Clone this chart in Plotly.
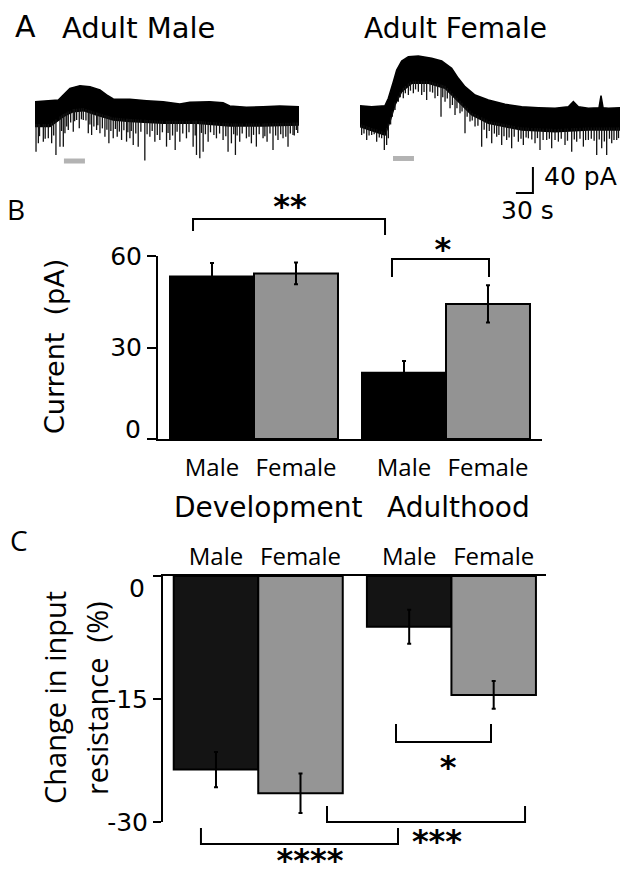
import numpy as np
import plotly.graph_objects as go

W, H = 620, 870

# ---------------- Panel A: example recordings (time s, current pA) ----------------
male_top_t = [0, 20.6, 41.2, 50.0, 61.7, 79.4, 97.0, 114.7, 126.4, 138.2, 167.6, 197.0, 226.4,
              255.8, 273.4, 308.7, 332.2, 344.0, 373.4, 402.8, 432.2, 466.3]
male_top_i = [5.1, 6.2, 7.7, 15.4, 25.6, 29.7, 28.2, 23.1, 15.4, 9.2, 8.7, 6.7, 5.1,
              1.5, 4.1, 5.1, 3.6, -1.5, -3.6, -2.6, -1.5, -2.6]
male_bot_t = [0, 26.5, 50.0, 67.6, 85.3, 108.8, 138.2, 167.6, 226.4, 285.2, 344.0, 402.8, 466.3]
male_bot_i = [-33.3, -33.3, -18.0, -10.3, -8.7, -15.4, -23.1, -25.6, -28.2, -28.2, -32.3, -32.3, -30.8]
male_spike_t = [1.8, 5.9, 14.7, 23.5, 29.4, 37.0, 44.1, 50.0, 52.9, 58.8, 67.6, 73.5, 78.2, 85.3,
                94.1, 100.0, 108.8, 114.7, 123.5, 130.5, 138.2, 145.2, 152.9, 161.7, 167.6, 173.5,
                182.3, 194.0, 202.9, 211.7, 220.5, 232.3, 238.2, 247.6, 255.8, 267.5, 279.3, 285.2,
                291.1, 297.0, 305.8, 320.5, 332.2, 341.0, 346.9, 354.0, 361.6, 373.4, 382.2, 391.0,
                402.8, 409.9, 420.4, 429.2, 438.1, 446.9, 455.7, 461.6,
                8, 18, 33, 47, 56, 63, 70, 82, 90, 97, 104, 111, 119, 127, 134, 142, 149, 157, 164,
                170, 178, 187, 198, 207, 216, 225, 235, 243, 251, 261, 272, 283, 294, 301, 310, 316,
                326, 337, 351, 357, 366, 378, 386, 396, 406, 415, 425, 434, 443, 451, 458, 464]
male_spike_i = [-71.8, -59.0, -56.4, -51.3, -59.0, -76.9, -64.1, -64.1, -43.6, -38.5, -41.0, -23.1,
                -35.9, -23.1, -43.6, -46.2, -38.5, -43.6, -48.7, -59.0, -51.3, -48.7, -53.8, -56.4,
                -51.3, -61.5, -64.1, -85.6, -48.7, -56.4, -53.8, -64.1, -53.8, -69.2, -56.4, -51.3,
                -64.1, -76.9, -82.1, -71.8, -56.4, -51.3, -53.8, -71.8, -59.0, -76.9, -56.4, -51.3,
                -59.0, -64.1, -51.3, -56.4, -69.2, -53.8, -51.3, -64.1, -46.2, -38.5,
                -48, -52, -47, -40, -33, -27, -25, -22, -24, -30, -33, -31, -36, -38, -40, -37, -41,
                -39, -42, -40, -44, -41, -45, -40, -46, -42, -43, -47, -41, -44, -42, -47, -43, -45,
                -42, -46, -44, -48, -45, -47, -44, -49, -46, -45, -48, -44, -47, -45, -49, -44, -47,
                -43]

fem_top_t = [0, 20.6, 44.1, 50.0, 58.8, 64.7, 73.5, 85.3, 102.9, 126.4, 144.1, 161.7, 173.5, 185.2,
             202.9, 226.4, 255.8, 285.2, 314.6, 344.0, 367.5, 376.3, 385.2, 402.8, 421.6, 425.1,
             428.7, 438.1, 458.6]
fem_top_i = [-1.0, -2.6, -1.0, 10.3, 35.9, 53.8, 67.7, 74.4, 75.4, 71.8, 67.7, 56.4, 41.0, 28.2,
             15.4, 7.7, 1.0, -2.6, -4.1, -5.1, -2.6, 5.1, -2.6, -5.1, -4.1, 14.3,
             -4.1, -5.1, -4.1]
fem_bot_t = [0, 44.1, 52.9, 61.7, 73.5, 91.1, 120.5, 150.0, 173.5, 197.0, 226.4, 285.2, 344.0,
             402.8, 458.6]
fem_bot_i = [-33.3, -46.2, -25.6, 0.0, 20.5, 33.3, 33.3, 25.6, 5.1, -15.4, -28.2, -38.5, -41.0,
             -38.5, -38.5]
fem_spike_t = [2.9, 11.8, 20.6, 29.4, 38.2, 42.9, 47.0, 50.0, 57.0, 61.7, 67.6, 76.4, 85.3, 94.1,
               102.9, 108.8, 117.6, 123.5, 132.3, 142.9, 150.0, 158.8, 167.6, 176.4, 185.2, 194.0,
               202.9, 214.6, 223.4, 232.3, 241.1, 249.9, 258.7, 267.5, 279.3, 288.1, 297.0, 308.7,
               317.5, 329.3, 338.1, 349.9, 361.6, 373.4, 382.2, 394.0, 402.8, 417.5, 426.3, 435.1,
               444.0, 452.8,
               7, 16, 25, 34, 54, 71, 80, 89, 98, 113, 128, 137, 146, 154, 163, 171, 180, 189, 198,
               208, 219, 228, 237, 245, 254, 263, 272, 284, 293, 303, 313, 323, 334, 344, 355, 366,
               378, 388, 398, 408, 413, 422, 431, 440, 448, 456]
fem_spike_i = [-46.2, -53.8, -46.2, -56.4, -51.3, -69.2, -61.5, -51.3, -18.0, -7.7, 5.1, 10.3, 15.4,
               18.0, 20.5, 15.4, 7.7, 20.5, 10.3, -18.0, 5.1, -5.1, -15.4, -12.8, -43.6, -25.6,
               -33.3, -64.1, -51.3, -59.0, -48.7, -61.5, -53.8, -66.7, -56.4, -61.5, -51.3, -59.0,
               -69.2, -53.8, -66.7, -56.4, -61.5, -71.8, -56.4, -64.1, -53.8, -76.9, -66.7, -76.9,
               -59.0, -53.8,
               -44, -47, -45, -50, -30, 12, 18, 22, 24, 20, 19, 14, 12, 10, 0, -5, -10, -18, -24,
               -32, -38, -40, -44, -46, -48, -50, -49, -52, -50, -53, -51, -54, -52, -54, -52, -55,
               -53, -52, -54, -52, -55, -53, -56, -52, -54, -51]

stim_male_t = [51.1, 88.2]
stim_male_i = [-86.2, -86.2]
stim_fem_t = [58.2, 95.2]
stim_fem_i = [-82.3, -82.3]

scale_t = [275, 305, 305]          # 30 s
scale_i = [-135.4, -135.4, -95.4]  # 40 pA

# ---------------- Panel B: current ----------------
groups = ["Development", "Adulthood"]
sexes = ["Male", "Female"]
b_vals = [53.3, 54.3, 21.7, 44.3]
b_err = [4.4, 3.6, 3.9, 6.1]
b_colors = ["#000000", "#939393", "#000000", "#939393"]
b_ticks = [0, 30, 60]

# ---------------- Panel C: change in input resistance ----------------
c_vals = [-23.6, -26.5, -6.2, -14.5]
c_err = [2.15, 2.4, 2.07, 1.7]
c_colors = ["#141414", "#959595", "#141414", "#959595"]
c_ticks = [0, -15, -30]

# significance brackets (x in bar-position units, y in data units)
b_brackets = [([-0.226, -0.226, 2.06, 2.06], [68.2, 72.1, 72.1, 66.9]),
              ([2.143, 2.143, 3.298, 3.298], [53.1, 59.0, 59.0, 53.1])]
b_stars = (["**", "*"], [0.929, 2.75], [75.4, 61.3])
c_brackets = [([2.130, 2.130, 3.254, 3.254], [-18.05, -20.24, -20.24, -18.05]),
              ([1.314, 1.314, 3.657, 3.657], [-28.05, -30.0, -30.0, -28.05]),
              ([-0.178, -0.178, 2.154, 2.154], [-30.73, -32.68, -32.68, -30.73])]
c_stars = (["*", "***", "****"], [2.746, 2.615, 1.112], [-23.7, -32.7, -35.0])

GAP = 0.286
pos = [g * (2 + GAP) + s for g in range(2) for s in range(2)]
labels = [s for g in groups for s in sexes]

ARIAL = "DejaVu Sans"
MYRIAD = "Open Sans"

fig = go.Figure()


def band(top_t, top_i, bot_t, bot_i, xa):
    fig.add_trace(go.Scatter(x=list(top_t) + list(bot_t)[::-1], y=list(top_i) + list(bot_i)[::-1],
                             fill="toself", fillcolor="black", mode="lines",
                             line=dict(color="black", width=1.5), xaxis=xa, yaxis="y",
                             hoverinfo="skip"))


def spikes(st, si, bot_t, bot_i, xa):
    xs, ys = [], []
    for t, v in zip(st, si):
        start = float(np.interp(t, bot_t, bot_i)) + 4
        xs += [t, t, None]
        ys += [start, v, None]
    fig.add_trace(go.Scatter(x=xs, y=ys, mode="lines", line=dict(color="#111111", width=1.3),
                             xaxis=xa, yaxis="y", hoverinfo="skip"))


band(male_top_t, male_top_i, male_bot_t, male_bot_i, "x")
spikes(male_spike_t, male_spike_i, male_bot_t, male_bot_i, "x")
band(fem_top_t, fem_top_i, fem_bot_t, fem_bot_i, "x2")
spikes(fem_spike_t, fem_spike_i, fem_bot_t, fem_bot_i, "x2")

fig.add_trace(go.Scatter(x=stim_male_t, y=stim_male_i, mode="lines",
                         line=dict(color="#b3b3b3", width=5), xaxis="x", yaxis="y"))
fig.add_trace(go.Scatter(x=stim_fem_t, y=stim_fem_i, mode="lines",
                         line=dict(color="#b3b3b3", width=5), xaxis="x2", yaxis="y"))
fig.add_trace(go.Scatter(x=scale_t, y=scale_i, mode="lines",
                         line=dict(color="black", width=2), xaxis="x2", yaxis="y"))

# Panel B bars
fig.add_trace(go.Bar(x=pos, y=b_vals, width=1, marker=dict(color=b_colors, line=dict(color="black", width=2)),
                     error_y=dict(type="data", array=b_err, color="black", thickness=2, width=2),
                     xaxis="x3", yaxis="y3"))
# Panel C bars
fig.add_trace(go.Bar(x=pos, y=c_vals, width=1, marker=dict(color=c_colors, line=dict(color="black", width=2)),
                     error_y=dict(type="data", array=c_err, color="black", thickness=2, width=2),
                     xaxis="x4", yaxis="y5"))

star_font = dict(family="DejaVu Sans", size=32, color="black", weight="bold")
for bx, by in b_brackets:
    fig.add_trace(go.Scatter(x=bx, y=by, mode="lines", line=dict(color="black", width=2),
                             xaxis="x3", yaxis="y4"))
fig.add_trace(go.Scatter(x=b_stars[1], y=b_stars[2], text=b_stars[0], mode="text",
                         textfont=star_font, textposition="middle center", cliponaxis=False,
                         xaxis="x3", yaxis="y4"))
for bx, by in c_brackets:
    fig.add_trace(go.Scatter(x=bx, y=by, mode="lines", line=dict(color="black", width=2),
                             xaxis="x4", yaxis="y6"))
fig.add_trace(go.Scatter(x=c_stars[1], y=c_stars[2], text=c_stars[0], mode="text",
                         textfont=star_font, textposition="middle center", cliponaxis=False,
                         xaxis="x4", yaxis="y6"))


def dom_x(a, b):
    return [a / W, b / W]


def dom_y(top, bottom):
    return [1 - bottom / H, 1 - top / H]


ann = []


def text(t, x, y, size, family, xanchor="center", angle=0):
    ann.append(dict(text=t, x=x / W, y=1 - y / H, xref="paper", yref="paper", showarrow=False,
                    xanchor=xanchor, yanchor="middle", textangle=angle,
                    font=dict(size=size, family=family, color="black")))


text("A", 25, 27, 30, ARIAL)
text("Adult Male", 138, 28, 29, ARIAL)
text("Adult Female", 455, 28, 28, ARIAL)
text("40 pA", 542, 177, 25, ARIAL, xanchor="left")
text("30 s", 527, 210, 25, ARIAL)
text("B", 16, 209, 28, MYRIAD)
text("C", 19, 540, 28, MYRIAD)
text("Current\u00a0\u00a0(pA)", 55, 347, 27, ARIAL, angle=-90)
text(groups[0], 268, 507, 28, ARIAL)
text(groups[1], 458, 507, 28, ARIAL)
text("Change in input", 54, 698, 29, MYRIAD, angle=-90)
text("resistance\u00a0\u00a0(%)", 96, 698, 29, MYRIAD, angle=-90)
text("0", 143, 429, 25, ARIAL, xanchor="right")
text("0", 147, 588, 25, ARIAL, xanchor="right")

common = dict(showgrid=False, zeroline=False, automargin=False)

fig.update_layout(
    width=W, height=H, autosize=False,
    margin=dict(l=0, r=0, t=0, b=0, pad=0, autoexpand=False),
    paper_bgcolor="white", plot_bgcolor="rgba(0,0,0,0)", showlegend=False,
    annotations=ann,
    xaxis=dict(domain=dom_x(35, 299), range=[0, 466.3], visible=False, anchor="y", **common),
    xaxis2=dict(domain=dom_x(360, 620), range=[0, 458.6], visible=False, anchor="y", **common),
    yaxis=dict(domain=dom_y(50, 200), range=[-146.2, 84.6], visible=False, anchor="x", **common),
    xaxis3=dict(domain=dom_x(158, 542), range=[-0.643, 3.929], anchor="y3", showline=True,
                linecolor="black", linewidth=2, ticks="", tickvals=pos, ticktext=labels,
                tickfont=dict(family=MYRIAD, size=24, color="black"), ticklabelstandoff=6, **common),
    yaxis3=dict(domain=dom_y(256, 439), range=[0, 60], anchor="x3", showline=True,
                linecolor="black", linewidth=2, ticks="outside", ticklen=9, tickwidth=2,
                tickcolor="black", tickvals=b_ticks, ticktext=["", "30", "60"],
                tickfont=dict(family=ARIAL, size=25, color="black"), **common),
    yaxis4=dict(domain=dom_y(190, 439), range=[0, 81.65], anchor="x3", visible=False, **common),
    xaxis4=dict(domain=dom_x(163, 546), range=[-0.627, 3.905], anchor="y5", side="top",
                showline=True, linecolor="black", linewidth=2, ticks="", tickvals=pos,
                ticktext=labels, tickfont=dict(family=MYRIAD, size=24, color="black"),
                ticklabelstandoff=-1, **common),
    yaxis5=dict(domain=dom_y(576, 822), range=[-30, 0], anchor="x4", showline=True,
                linecolor="black", linewidth=2, ticks="outside", ticklen=8, tickwidth=2,
                tickcolor="black", tickvals=c_ticks, ticktext=["", "-15", "-30"],
                tickfont=dict(family=ARIAL, size=25, color="black"), **common),
    yaxis6=dict(domain=dom_y(576, 869.6), range=[-35.8, 0], anchor="x4", visible=False, **common),
)

fig.write_html("out.html", config={"displayModeBar": False},
               post_script="document.body.style.margin='0';")
